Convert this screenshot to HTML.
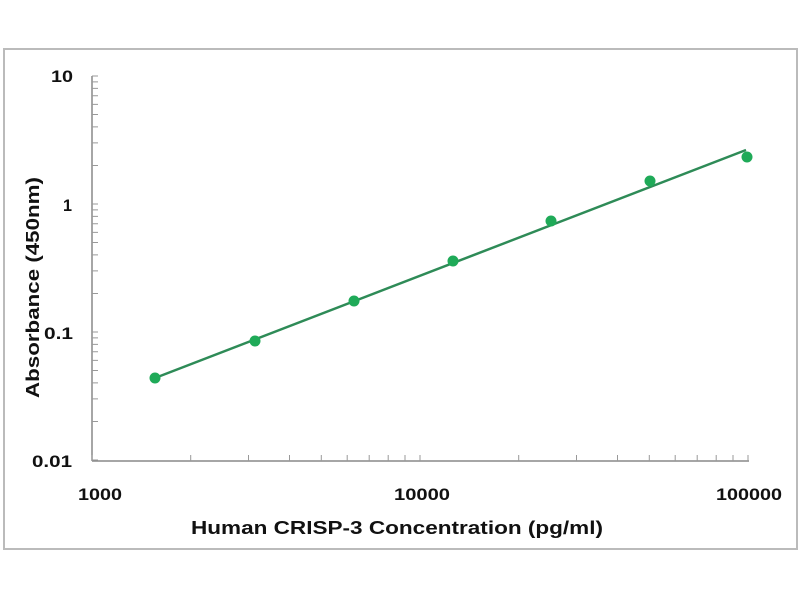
<!DOCTYPE html>
<html><head><style>body{margin:0;background:#fff}svg{display:block}text{font-family:"Liberation Sans",sans-serif;font-weight:bold;fill:#111}</style></head>
<body>
<svg width="800" height="600" viewBox="0 0 800 600" xmlns="http://www.w3.org/2000/svg">
<rect x="4" y="49" width="793" height="500" fill="none" stroke="#bbb" stroke-width="2"/>
<g stroke="#888" stroke-width="1.5" fill="none">
<line x1="92" y1="76" x2="92" y2="461"/>
<line x1="92" y1="461" x2="749" y2="461"/>
</g>
<path id="ticks" stroke="#999" stroke-width="1" fill="none" d=""/>
<line x1="155" y1="378" x2="746" y2="150" stroke="#2e8b57" stroke-width="2.5"/>
<g fill="#1faa58">
<circle cx="155" cy="378" r="5.5"/><circle cx="255" cy="341" r="5.5"/><circle cx="354" cy="301" r="5.5"/><circle cx="453" cy="261" r="5.5"/><circle cx="551" cy="221" r="5.5"/><circle cx="650" cy="181" r="5.5"/><circle cx="747" cy="157" r="5.5"/>
</g>
<g font-size="17" lengthAdjust="spacingAndGlyphs">
<text x="51" y="82" textLength="22" lengthAdjust="spacingAndGlyphs">10</text>
<text x="63" y="211" textLength="9" lengthAdjust="spacingAndGlyphs">1</text>
<text x="44" y="339" textLength="29" lengthAdjust="spacingAndGlyphs">0.1</text>
<text x="32" y="467" textLength="40" lengthAdjust="spacingAndGlyphs">0.01</text>
<text x="78" y="500" textLength="44" lengthAdjust="spacingAndGlyphs">1000</text>
<text x="394" y="500" textLength="56" lengthAdjust="spacingAndGlyphs">10000</text>
<text x="716" y="500" textLength="66" lengthAdjust="spacingAndGlyphs">100000</text>
<text x="191" y="534" font-size="18" textLength="412" lengthAdjust="spacingAndGlyphs">Human CRISP-3  Concentration (pg/ml)</text>
<text transform="translate(39,398) rotate(-90)" font-size="18" textLength="221" lengthAdjust="spacingAndGlyphs">Absorbance (450nm)</text>
</g>
<script>
(function(){var d="";for(var k=0;k<3;k++){for(var i=1;i<=10;i++){var y=460-(k+Math.log10(i))*128;d+="M92 "+y.toFixed(1)+"h6";var x=92+(k<2?(k+Math.log10(i))*328:0);if(k<2)d+="M"+x.toFixed(1)+" 461v-6";}}d+="M748 461v-6";document.getElementById("ticks").setAttribute("d",d);})();
</script>
</svg>
</body></html>
